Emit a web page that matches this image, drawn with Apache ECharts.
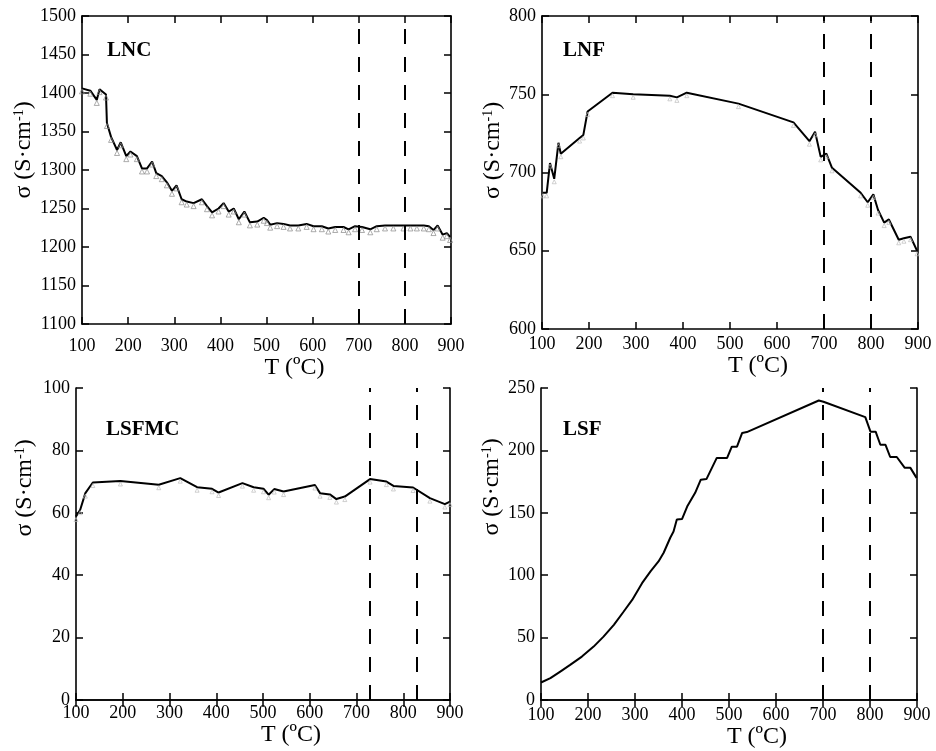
<!DOCTYPE html>
<html>
<head>
<meta charset="utf-8">
<script src="https://cdn.jsdelivr.net/npm/echarts@6/dist/echarts.min.js"></script>
<style>html,body{margin:0;padding:0;background:#fff}#c{width:936px;height:751px}</style>
</head>
<body>
<div id="c"></div>
<script>
// ---- Data ----
const lncT = [100,118,132,138,152,154,163,176,184,196,205,219,230,241,252,261,273,284,295,305,316,327,342,360,371,382,396,407,418,429,440,452,464,480,494,501,508,523,537,551,569,587,602,620,634,649,667,678,692,707,725,739,757,775,797,812,826,841,852,862,871,882,891,898];
const lncSigma = [1406,1403,1391,1405,1398,1361,1343,1326,1336,1318,1324,1318,1302,1302,1311,1296,1292,1284,1273,1280,1262,1259,1257,1262,1253,1245,1250,1257,1246,1250,1236,1246,1232,1233,1238,1235,1229,1231,1230,1228,1228,1230,1227,1227,1224,1226,1226,1223,1227,1226,1223,1227,1228,1228,1228,1228,1228,1228,1227,1222,1228,1216,1218,1213];

const lnfT = [102,110,117,126,135,140,180,188,197,250,294,372,387,408,518,635,669,681,693,705,717,778,793,805,815,828,838,859,870,884,898];
const lnfSigma = [687,687,706,696,719,712,722,724,739,751,750,749,748,751,744,732,720,726,710,712,703,687,681,686,676,668,670,657,658,659,650];

const lsfmcT = [100,109,120,136,195,277,323,359,391,405,456,480,501,512,524,544,611,622,643,657,675,729,764,779,821,857,889,900];
const lsfmcSigma = [58.8,61,66.3,69.7,70.2,69,71.1,68.2,67.7,66.5,69.5,68.2,67.7,65.8,67.6,66.8,68.9,66.3,65.9,64.4,65.2,70.8,70,68.6,68.1,64.7,62.8,63.6];

const lsfT = [100,120,141,162,187,212,233,255,276,294,315,333,350,361,375,382,389,400,411,428,440,452,474,496,506,517,528,538,691,701,790,801,812,822,833,843,857,874,886,899];
const lsfSigma = [14,17.5,22.8,28.1,34.8,42.8,50.8,60.2,70.9,80.2,93.6,103,111,118,130,135,144.7,145,155,166,176.5,177,194,194,203,203,214,214.7,240,239,226.7,215,215,204.5,204.5,194.7,194.7,186,186,178];

const panelNames = ['LNC','LNF','LSFMC','LSF'];
const xTicks = {min:100, max:900, interval:100};
const yRanges = [
  {min:1100, max:1500, interval:50},
  {min:600, max:800, interval:50},
  {min:0, max:100, interval:20},
  {min:0, max:250, interval:50}
];
const dashPositions = [[700,800],[700,800],[728,828],[700,800]];
const xName = 'T (ºC)';
const yNameParts = ['σ (S·cm', '-1', ')'];

// ---- Layout ----
const FONT = '"Liberation Serif","Times New Roman",serif';
const grids = [
  {left:82, top:16, width:369, height:308},
  {left:542, top:16, width:376, height:313},
  {left:76, top:388, width:374, height:312},
  {left:541, top:388, width:376, height:312}
];
const xLabelMargin = [13,6,4,6];
const xNameGap = [28,15,13,17];
const yNameGap = [45,37,39,37];
const yNameShift = [40,44,112,114];
const titlePos = [[107,40],[563,40],[106,419],[563,419]];
const series = [[lncT,lncSigma],[lnfT,lnfSigma],[lsfmcT,lsfmcSigma],[lsfT,lsfSigma]];

const xAxes = [], yAxes = [], ser = [], titles = [];
const lineW = 1.6;
const tick = () => ({show:true, inside:true, length:7, lineStyle:{color:'#000', width:1.5}});
const line = () => ({show:true, lineStyle:{color:'#000', width:lineW}});
grids.forEach((g, i) => {
  xAxes.push({
    gridIndex:i, type:'value', position:'bottom', min:xTicks.min, max:xTicks.max, interval:xTicks.interval,
    axisLine:line(),
    axisTick:tick(),
    axisLabel:{show:true, color:'#000', fontFamily:FONT, fontSize:18, margin:xLabelMargin[i], formatter:v => String(v)},
    splitLine:{show:false},
    name:xName, nameLocation:'middle', nameGap:xNameGap[i],
    nameTextStyle:{color:'#000', fontFamily:FONT, fontSize:24, padding:[0,0,0,56]}
  });
  xAxes.push({
    gridIndex:i, type:'value', position:'top', min:xTicks.min, max:xTicks.max, interval:xTicks.interval,
    axisLine:line(),
    axisTick:tick(),
    axisLabel:{show:false}, splitLine:{show:false}
  });
  const yr = yRanges[i];
  yAxes.push({
    gridIndex:i, type:'value', position:'left', min:yr.min, max:yr.max, interval:yr.interval,
    axisLine:line(),
    axisTick:tick(),
    axisLabel:{show:true, color:'#000', fontFamily:FONT, fontSize:18, margin:6, formatter:v => String(v)},
    splitLine:{show:false},
    name:'{a|' + yNameParts[0] + '}{s|' + yNameParts[1] + '}{a|' + yNameParts[2] + '}',
    nameLocation:'middle', nameGap:yNameGap[i], nameRotate:90,
    nameTextStyle:{color:'#000', fontFamily:FONT, fontSize:24, padding:[0,0,0,yNameShift[i]],
      rich:{a:{fontFamily:FONT, fontSize:24, color:'#000'}, s:{fontFamily:FONT, fontSize:14, color:'#000', padding:[0,0,10,0]}}}
  });
  yAxes.push({
    gridIndex:i, type:'value', position:'right', min:yr.min, max:yr.max, interval:yr.interval,
    axisLine:line(),
    axisTick:tick(),
    axisLabel:{show:false}, splitLine:{show:false}
  });
  const [T, S] = series[i];
  ser.push({
    type:'line', xAxisIndex:i*2, yAxisIndex:i*2,
    data:T.map((t, k) => [t, S[k]]),
    showSymbol: i !== 3, symbol:'triangle', symbolSize: i === 0 ? 5 : 4, symbolOffset:[0,3],
    itemStyle:{color:'rgba(0,0,0,0)', borderColor: i === 0 ? '#888' : '#bbb', borderWidth:0.7},
    lineStyle:{color:'#000', width:2},
    animation:false, z:3,
    markLine:{
      silent:true, symbol:'none', animation:false,
      label:{show:false},
      lineStyle:{color:'#000', type:[15,13], width:2},
      data:dashPositions[i].map(v => ({xAxis:v}))
    }
  });
  titles.push({text:panelNames[i], left:titlePos[i][0], top:titlePos[i][1], padding:0,
    textStyle:{fontFamily:FONT, fontWeight:'bold', fontSize:21, color:'#000'}});
});

const chart = echarts.init(document.getElementById('c'));
chart.setOption({
  animation:false,
  backgroundColor:'#fff',
  title:titles,
  grid:grids,
  xAxis:xAxes,
  yAxis:yAxes,
  series:ser
});
</script>
</body>
</html>
